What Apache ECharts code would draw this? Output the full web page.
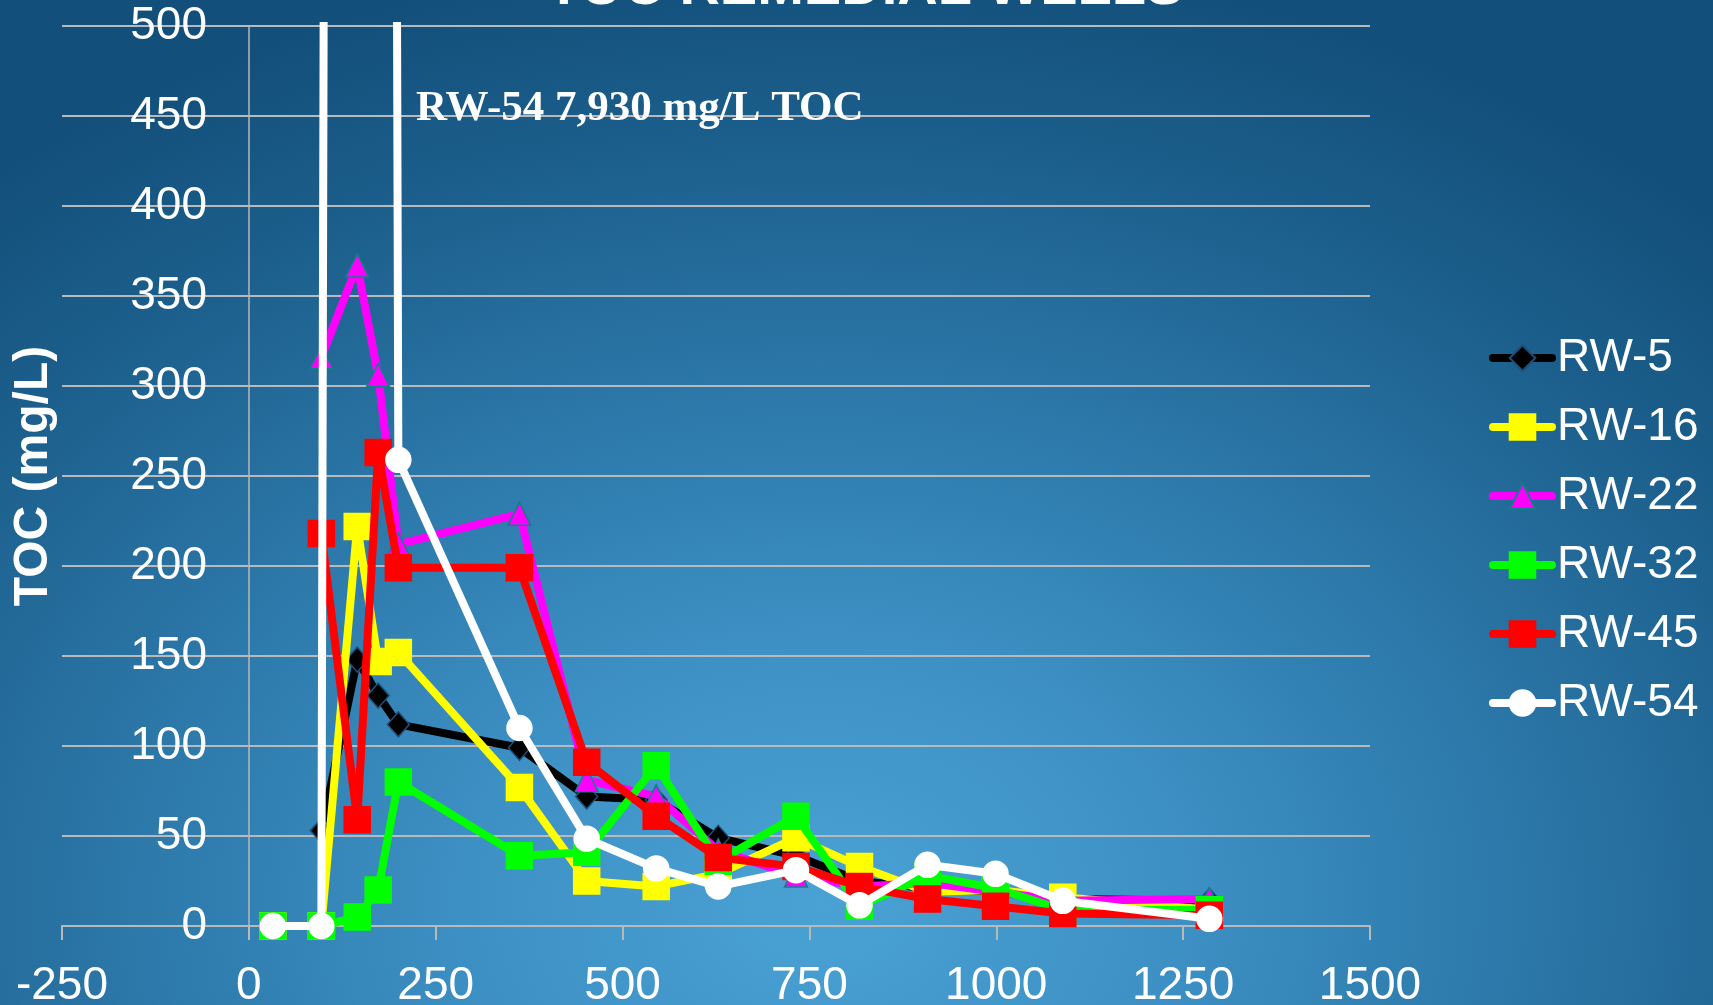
<!DOCTYPE html>
<html>
<head>
<meta charset="utf-8">
<script src="https://cdn.jsdelivr.net/npm/echarts@6/dist/echarts.min.js"></script>
<style>
  html, body { margin: 0; padding: 0; width: 100%; height: 100%; overflow: hidden; }
  #chart {
    width: 1713px; height: 1005px;
    background: radial-gradient(ellipse 75% 95% at 48% 90%, #4aa2d4 0%, #3d90c4 28%, #2b77a8 55%, #1c5f8c 80%, #134f7b 100%);
  }
</style>
</head>
<body>
<div id="chart"></div>
<script>
// Sampling days (x axis) shared by all recovery wells
const sampleDays = [32, 97, 145, 173, 200, 362, 452, 545, 628, 732, 817, 908, 999, 1089, 1285];

// TOC concentrations (mg/L) per well; null = not sampled on that day
const rw5  = [null, 53, 148, 128, 112, 99, 72, 70, 49, 39, 25, 21, 19, 15, 14];
const rw16 = [0, 0, 222, 147, 152, 77, 25, 22, 29, 49, 33, 19, 20, 16, 9];
const rw22 = [null, 316, 367, 306, 212, 229, 81, 72, 42, 28, 22, 24, 19, 14, 15];
const rw32 = [0, 0, 5, 20, 80, 39, 41, 89, 36, 61, 11, 28, 21, 9, 9];
const rw45 = [null, 218, 59, 263, 199, 199, 91, 61, 38, 33, 22, 15, 11, 7, 6];
const rw54 = [0, 0, 7930, null, 259, 110, 48.5, 32, 22, 31, 11.5, 34, 29, 14, 4];

const wellNames = ['RW-5', 'RW-16', 'RW-22', 'RW-32', 'RW-45', 'RW-54'];
const wellValues = [rw5, rw16, rw22, rw32, rw45, rw54];

// Axis ranges
const xMin = -250, xMax = 1500, xStep = 250;
const yMin = 0, yMax = 500, yStep = 50;

const titleText = 'TOC REMEDIAL WELLS';
const yAxisTitle = 'TOC (mg/L)';
const noteText = 'RW-54 7,930 mg/L TOC';

const sans = '"Liberation Sans", Arial, sans-serif';
const serif = '"Liberation Serif", "Times New Roman", serif';
const gridGrey = '#b9b9b9';
const lineW = 8;

const styles = [
  { color: '#000000', symbol: 'diamond', size: [22, 25], border: '#1f4e79' },
  { color: '#ffff00', symbol: 'rect', size: 26, border: '#ffff00' },
  { color: '#ff00ff', symbol: 'triangle', size: [23, 23], border: '#0e8088' },
  { color: '#00ff00', symbol: 'rect', size: 26, border: '#00ff00' },
  { color: '#ff0000', symbol: 'rect', size: 26, border: '#ff0000' },
  { color: '#ffffff', symbol: 'circle', size: 25, border: '#ffffff' }
];

function toPairs(values) {
  const out = [];
  values.forEach((v, i) => { if (v !== null) out.push([sampleDays[i], v]); });
  return out;
}

const series = wellNames.map((name, i) => ({
  name: name,
  type: 'line',
  z: 10 + i,
  data: toPairs(wellValues[i]),
  symbol: styles[i].symbol,
  symbolSize: styles[i].size,
  clip: true,
  lineStyle: { color: styles[i].color, width: lineW, cap: 'round', join: 'round' },
  itemStyle: { color: styles[i].color, borderColor: styles[i].border, borderWidth: 1.5 },
  emphasis: { disabled: true },
  animation: false
}));

const chart = echarts.init(document.getElementById('chart'), null, { renderer: 'canvas' });
chart.setOption({
  backgroundColor: 'transparent',
  animation: false,
  grid: { left: 62, right: 343, top: 26, bottom: 79, containLabel: false, outerBoundsMode: 'none' },
  xAxis: {
    type: 'value',
    min: xMin, max: xMax, interval: xStep,
    axisLine: { show: true, lineStyle: { color: gridGrey, width: 2 } },
    axisTick: { show: true, inside: false, length: 14, lineStyle: { color: gridGrey, width: 2 } },
    splitLine: { show: false },
    axisLabel: { color: '#ffffff', fontSize: 46, fontFamily: sans, margin: 37, formatter: v => String(v) }
  },
  yAxis: {
    type: 'value',
    min: yMin, max: yMax, interval: yStep,
    name: yAxisTitle,
    nameLocation: 'middle',
    nameGap: 4,
    nameRotate: 90,
    nameTextStyle: { color: '#ffffff', fontSize: 48, fontWeight: 'bold', fontFamily: sans },
    axisLine: { show: true, onZero: true, lineStyle: { color: gridGrey, width: 1.5 } },
    axisTick: { show: false },
    splitLine: { show: true, lineStyle: { color: gridGrey, width: 2 } },
    // labels sit just left of the x = 0 crossing line
    axisLabel: { color: '#ffffff', fontSize: 46, fontFamily: sans, margin: -145, formatter: v => String(v) }
  },
  legend: {
    orient: 'vertical',
    left: 1484, top: 330,
    itemWidth: 59, itemHeight: 32, itemGap: 23,
    data: wellNames,
    lineStyle: { width: lineW, cap: 'round' },
    textStyle: { color: '#ffffff', fontSize: 46, fontFamily: sans, padding: [0, 0, 0, 0] },
    selectedMode: false
  },
  graphic: [
    {
      type: 'text', z: 100,
      style: { text: titleText, fill: '#ffffff', font: 'bold 56px ' + sans, x: 865, y: -11, align: 'center', verticalAlign: 'middle' }
    },
    {
      type: 'text', z: 100,
      style: { text: noteText, fill: '#ffffff', font: 'bold 43px ' + serif, x: 416, y: 109, align: 'left', verticalAlign: 'middle' }
    }
  ],
  series: series
});
</script>
</body>
</html>
